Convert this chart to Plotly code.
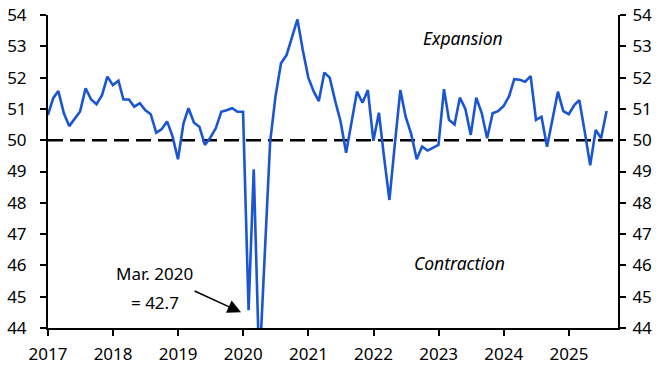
import pandas as pd
import plotly.graph_objects as go

# Monthly index values, Dec 2016 .. Jul 2025 (plotted at month end)
pmi_values = [
    50.8, 51.35, 51.57, 50.86, 50.45, 50.7, 50.92, 51.66, 51.3, 51.15, 51.44, 52.03,
    51.76, 51.9, 51.3, 51.3, 51.07, 51.18, 50.96, 50.83, 50.24, 50.35, 50.6, 50.13,
    49.39, 50.54, 51.02, 50.56, 50.43, 49.85, 50.08, 50.38, 50.91, 50.96, 51.02, 50.91,
    50.91, 44.57, 49.07, 42.7, 46.2, 49.95, 51.4, 52.46, 52.72, 53.3, 53.86, 52.88,
    52.0, 51.55, 51.25, 52.16, 52.0, 51.25, 50.6, 49.6, 50.55, 51.55, 51.2, 51.6,
    49.98, 50.88, 49.5, 48.09, 49.85, 51.6, 50.75, 50.2, 49.39, 49.8, 49.67, 49.75,
    49.85, 51.63, 50.65, 50.5, 51.36, 51.0, 50.17, 51.36, 50.86, 50.06, 50.86, 50.93,
    51.09, 51.4, 51.95, 51.93, 51.87, 52.05, 50.65, 50.75, 49.79, 50.65, 51.55, 50.93,
    50.83, 51.12, 51.28, 50.25, 49.2, 50.33, 50.06, 50.93,
]
months = pd.date_range("2016-12-31", periods=len(pmi_values), freq="ME")

x_tick_years = [2017, 2018, 2019, 2020, 2021, 2022, 2023, 2024, 2025]
x_tick_vals = [f"{y}-01-01" for y in x_tick_years]
x_tick_text = [str(y) for y in x_tick_years]
y_ticks = list(range(44, 55))
threshold = 50

FONT = "Noto Sans"
BLUE = "#1a55d3"

fig = go.Figure()
fig.add_trace(go.Scatter(x=months, y=pmi_values, mode="lines",
                         line=dict(color=BLUE, width=2.6), hoverinfo="skip",
                         showlegend=False))
# invisible copy to activate right-hand axis
fig.add_trace(go.Scatter(x=months, y=pmi_values, mode="lines", yaxis="y2",
                         line=dict(color="rgba(0,0,0,0)", width=0), hoverinfo="skip",
                         showlegend=False))

axis_common = dict(showgrid=False, zeroline=False, showline=True, linecolor="black",
                   linewidth=2, ticks="outside", ticklen=6, tickwidth=2, automargin=False,
                   ticklabeloverflow="allow",
                   tickcolor="black", tickfont=dict(family=FONT, size=17, color="black"))

txt = dict(showarrow=False, xanchor="center", yanchor="middle")

fig.update_layout(
    width=671, height=378,
    margin=dict(l=48, r=53, t=15, b=50),
    paper_bgcolor="white", plot_bgcolor="white",
    xaxis=dict(type="date", range=["2017-01-01", "2025-10-03"],
               tickmode="array", tickvals=x_tick_vals, ticktext=x_tick_text,
               ticklabelstandoff=4, **axis_common),
    yaxis=dict(range=[44, 54], tickmode="array", tickvals=y_ticks,
               ticklabelstandoff=10, **axis_common),
    yaxis2=dict(range=[44, 54], tickmode="array", tickvals=y_ticks, overlaying="y",
                side="right", ticklabelstandoff=3, **axis_common),
    shapes=[dict(type="line", xref="paper", x0=0, x1=1, yref="y", y0=threshold, y1=threshold,
                 line=dict(color="black", width=2.5, dash="15px,7px"), layer="below")],
    annotations=[
        dict(text="<i>Expansion</i>", xref="paper", yref="paper", x=0.728, y=0.927,
             font=dict(family=FONT, size=17.5, color="black"), **txt),
        dict(text="<i>Contraction</i>", xref="paper", yref="paper", x=0.722, y=0.208,
             font=dict(family=FONT, size=17.5, color="black"), **txt),
        dict(text="Mar. 2020", xref="paper", yref="paper", x=0.1863, y=0.173,
             font=dict(family=FONT, size=17, color="black"), **txt),
        dict(text="= 42.7", xref="paper", yref="paper", x=0.1878, y=0.083,
             font=dict(family=FONT, size=17, color="black"), **txt),
        dict(text="", xref="x", yref="y", x="2019-12-20", y=44.5, ax=-48, ay=-22,
             showarrow=True, arrowhead=2, arrowsize=1.8, arrowwidth=1.5,
             arrowcolor="black", standoff=0),
    ],
)

fig.write_html("out.html", config={"displayModeBar": False},
               post_script="document.body.style.margin='0px';")
